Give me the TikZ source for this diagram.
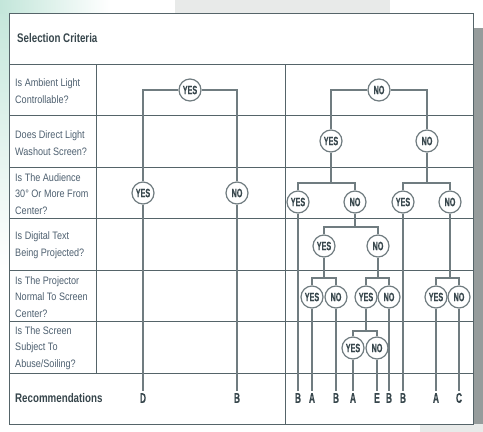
\documentclass[tikz,border=0pt]{standalone}
\usepackage{fontspec}
\setmainfont{Liberation Sans}
\newfontfamily\labelfont[FakeStretch=0.84]{Liberation Sans}
\newfontfamily\headfont[FakeStretch=0.78]{Liberation Sans}
\newfontfamily\markfont[FakeStretch=0.6, FakeBold=0.4]{Liberation Sans}
\usetikzlibrary{calc}

\definecolor{tableline}{RGB}{85,100,105}
\definecolor{treeline}{RGB}{112,124,128}
\definecolor{ink}{RGB}{55,70,76}
\definecolor{labelink}{RGB}{78,96,112}
\definecolor{mint}{RGB}{195,230,218}
\definecolor{shadow}{RGB}{150,156,156}
\definecolor{haze}{RGB}{232,234,233}

\begin{document}
\begin{tikzpicture}[
    x=1pt, y=-1pt,
    grid/.style={draw=tableline, line width=0.9pt},
    link/.style={draw=treeline, line width=1.1pt},
    rowlabel/.style={anchor=west, align=left, inner sep=0pt, text=labelink, font=\labelfont\fontsize{10.8}{16.5}\selectfont},
    heading/.style={anchor=west, inner sep=0pt, text=ink, font=\headfont\bfseries\fontsize{12.5}{15}\selectfont},
    dec/.style={circle, draw=treeline, line width=1.2pt, fill=white, minimum size=22pt, inner sep=0pt, text=ink, font=\markfont\bfseries\fontsize{12}{12}\selectfont},
    rec/.style={inner sep=2pt, text=ink, font=\markfont\bfseries\fontsize{14}{14}\selectfont}
]
\useasboundingbox (0,0) rectangle (483,432);

% Page background
\shade[top color=mint, bottom color=white] (0,0) rectangle (9,270);
\shade[left color=mint, right color=white] (0,0) rectangle (110,13);
\fill[haze] (175,0) rectangle (390,13);
\fill[shadow] (473,28) rectangle (483,432);
\fill[haze] (420,424) rectangle (483,432);

% Table
\fill[white] (9,13) rectangle (473,424);
\draw[grid] (9,13) rectangle (473,424);
\foreach \y in {64,115.5,167,218.5,270,321.5,373}
    \draw[grid] (9,\y) -- (473,\y);
\draw[grid] (96,64) -- (96,373);
\draw[grid] (285,64) -- (285,424);

% Row labels
\node[heading] (title) at (17,38) {Selection Criteria};
\node[rowlabel] (q1) at (15,91) {Is Ambient Light\\Controllable?};
\node[rowlabel] (q2) at (15,143) {Does Direct Light\\Washout Screen?};
\node[rowlabel] (q3) at (15,194) {Is The Audience\\30° Or More From\\Center?};
\node[rowlabel] (q4) at (15,245) {Is Digital Text\\Being Projected?};
\node[rowlabel] (q5) at (15,297) {Is The Projector\\Normal To Screen\\Center?};
\node[rowlabel] (q6) at (15,348) {Is The Screen\\Subject To\\Abuse/Soiling?};
\node[heading] (recs) at (15,398) {Recommendations};

% Decisions
\node[dec] (ambY) at (190,90) {YES};
\node[dec] (ambN) at (379,90) {NO};
\node[dec] (audY) at (143,193) {YES};
\node[dec] (audN) at (237,193) {NO};
\node[dec] (washY) at (331,141) {YES};
\node[dec] (washN) at (427,141) {NO};
\node[dec] (wyAudY) at (298,202) {YES};
\node[dec] (wyAudN) at (355,202) {NO};
\node[dec] (wnAudY) at (403,202) {YES};
\node[dec] (wnAudN) at (450,202) {NO};
\node[dec] (digY) at (324,246) {YES};
\node[dec] (digN) at (378,246) {NO};
\node[dec] (dyNormY) at (312,297) {YES};
\node[dec] (dyNormN) at (336,297) {NO};
\node[dec] (dnNormY) at (366,297) {YES};
\node[dec] (dnNormN) at (389,297) {NO};
\node[dec] (wnNormY) at (436,297) {YES};
\node[dec] (wnNormN) at (459,297) {NO};
\node[dec] (abuY) at (353,348) {YES};
\node[dec] (abuN) at (377,348) {NO};

% Recommendations
\node[rec] (recD) at (143,398) {D};
\node[rec] (recB1) at (237,398) {B};
\node[rec] (recB2) at (298,398) {B};
\node[rec] (recA1) at (312,398) {A};
\node[rec] (recB3) at (336,398) {B};
\node[rec] (recA2) at (353,398) {A};
\node[rec] (recE) at (377,398) {E};
\node[rec] (recB4) at (389,398) {B};
\node[rec] (recB5) at (403,398) {B};
\node[rec] (recA3) at (436,398) {A};
\node[rec] (recC) at (459,398) {C};

% Connections
\draw[link] (ambY.west) -| (audY.north);
\draw[link] (ambY.east) -| (audN.north);
\draw[link] (ambN.west) -| (washY.north);
\draw[link] (ambN.east) -| (washN.north);
\foreach \p/\l/\r/\b in {washY/wyAudY/wyAudN/183, washN/wnAudY/wnAudN/183,
    wyAudN/digY/digN/227, digY/dyNormY/dyNormN/278, digN/dnNormY/dnNormN/278,
    wnAudN/wnNormY/wnNormN/278, dnNormY/abuY/abuN/331}{
    \coordinate (bar) at (\p.south |- 0,\b);
    \draw[link] (\p.south) -- (bar) (\l.north) |- (bar) -| (\r.north);
}
\foreach \leaf/\out in {audY/recD, audN/recB1, wyAudY/recB2, dyNormY/recA1,
    dyNormN/recB3, abuY/recA2, abuN/recE, dnNormN/recB4, wnAudY/recB5,
    wnNormY/recA3, wnNormN/recC}
    \draw[link] (\leaf) -- (\out);

\end{tikzpicture}
\end{document}
